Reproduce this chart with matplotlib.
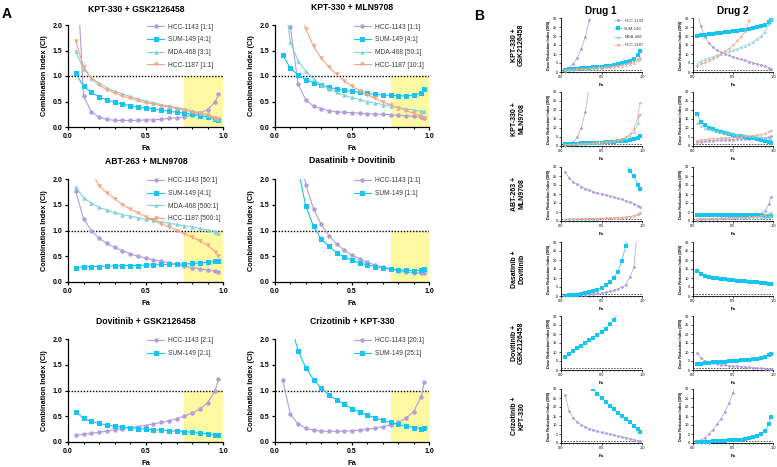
import numpy as np
import matplotlib
matplotlib.use("Agg")
import matplotlib.pyplot as plt
from matplotlib.ticker import MultipleLocator

plt.rcParams['font.family'] = ['Liberation Sans', 'DejaVu Sans']

# fraction affected, shared by every curve
fa = [0.05, 0.10, 0.15, 0.20, 0.25, 0.30, 0.35, 0.40, 0.45, 0.50,
      0.55, 0.60, 0.65, 0.70, 0.75, 0.80, 0.85, 0.90, 0.95, 0.97]

# ---------------- Panel A : combination index ----------------
ci_titles = ['KPT-330 + GSK2126458', 'KPT-330 + MLN9708', 'ABT-263 + MLN9708',
             'Dasatinib + Dovitinib', 'Dovitinib + GSK2126458', 'Crizotinib + KPT-330']

# KPT-330 + GSK2126458
ci1_hcc1143 = [3.5, 0.61, 0.30, 0.19, 0.15, 0.13, 0.13, 0.13, 0.13, 0.14,
               0.14, 0.15, 0.17, 0.18, 0.20, 0.23, 0.27, 0.34, 0.49, 0.64]
ci1_sum149 = [1.05, 0.80, 0.68, 0.59, 0.53, 0.49, 0.45, 0.42, 0.39, 0.37,
              0.35, 0.33, 0.31, 0.29, 0.27, 0.25, 0.22, 0.20, 0.16, 0.13]
ci1_mda468 = [1.49, 1.14, 0.97, 0.86, 0.77, 0.70, 0.65, 0.60, 0.55, 0.51,
              0.48, 0.44, 0.41, 0.38, 0.35, 0.32, 0.28, 0.24, 0.18, 0.15]
ci1_hcc1187 = [1.68, 1.18, 0.95, 0.82, 0.73, 0.67, 0.61, 0.56, 0.52, 0.48,
               0.45, 0.42, 0.39, 0.36, 0.33, 0.30, 0.27, 0.23, 0.18, 0.15]
ci1_labels = ['HCC-1143 [1:1]', 'SUM-149 [4:1]', 'MDA-468 [3:1]', 'HCC-1187 [1:1]']

# KPT-330 + MLN9708
ci2_hcc1143 = [3.5, 1.96, 0.84, 0.53, 0.41, 0.36, 0.32, 0.30, 0.29, 0.28,
               0.27, 0.26, 0.25, 0.25, 0.24, 0.23, 0.22, 0.21, 0.19, 0.18]
ci2_sum149 = [1.41, 1.15, 1.02, 0.93, 0.87, 0.82, 0.78, 0.74, 0.72, 0.70,
              0.68, 0.66, 0.64, 0.63, 0.62, 0.61, 0.61, 0.62, 0.67, 0.74]
ci2_mda468 = [2.8, 1.66, 1.30, 1.09, 0.94, 0.83, 0.75, 0.68, 0.62, 0.58,
              0.54, 0.50, 0.47, 0.44, 0.41, 0.38, 0.36, 0.33, 0.31, 0.31]
ci2_hcc1187 = [4.5, 3.2, 2.4, 1.93, 1.58, 1.35, 1.17, 1.03, 0.90, 0.80,
               0.71, 0.63, 0.56, 0.49, 0.43, 0.38, 0.32, 0.27, 0.21, 0.18]
ci2_labels = ['HCC-1143 [1:1]', 'SUM-149 [4:1]', 'MDA-468 [50:1]', 'HCC-1187 [10:1]']

# ABT-263 + MLN9708
ci3_hcc1143 = [1.76, 1.23, 1.00, 0.85, 0.75, 0.67, 0.61, 0.55, 0.50, 0.47,
               0.43, 0.40, 0.37, 0.34, 0.31, 0.28, 0.26, 0.23, 0.21, 0.19]
ci3_sum149 = [0.28, 0.29, 0.30, 0.30, 0.31, 0.31, 0.32, 0.32, 0.32, 0.33,
              0.33, 0.34, 0.34, 0.35, 0.35, 0.36, 0.37, 0.38, 0.40, 0.41]
ci3_mda468 = [1.84, 1.64, 1.53, 1.45, 1.40, 1.35, 1.31, 1.28, 1.25, 1.22,
              1.20, 1.17, 1.14, 1.12, 1.09, 1.07, 1.04, 1.01, 0.98, 0.96]
ci3_hcc1187 = [3.0, 2.4, 2.15, 1.87, 1.73, 1.62, 1.50, 1.42, 1.34, 1.27,
               1.20, 1.13, 1.07, 1.00, 0.94, 0.87, 0.80, 0.71, 0.59, 0.51]
ci3_labels = ['HCC-1143 [50:1]', 'SUM-149 [4:1]', 'MDA-468 [500:1]', 'HCC-1187 [500:1]']

# Dasatinib + Dovitinib
ci4_hcc1143 = [5.0, 3.6, 2.6, 1.89, 1.42, 1.12, 0.90, 0.74, 0.62, 0.52,
               0.45, 0.38, 0.33, 0.29, 0.25, 0.22, 0.20, 0.18, 0.17, 0.18]
ci4_sum149 = [4.5, 3.1, 2.2, 1.47, 1.08, 0.84, 0.69, 0.57, 0.49, 0.42,
              0.37, 0.33, 0.30, 0.27, 0.25, 0.24, 0.23, 0.22, 0.23, 0.26]
ci4_labels = ['HCC-1143 [1:1]', 'SUM-149 [1:1]']

# Dovitinib + GSK2126458
ci5_hcc1143 = [0.13, 0.15, 0.17, 0.19, 0.21, 0.24, 0.26, 0.28, 0.30, 0.32,
               0.35, 0.38, 0.41, 0.45, 0.50, 0.56, 0.64, 0.76, 1.00, 1.22]
ci5_sum149 = [0.59, 0.46, 0.40, 0.36, 0.33, 0.31, 0.29, 0.28, 0.26, 0.25,
              0.24, 0.23, 0.22, 0.21, 0.20, 0.19, 0.17, 0.16, 0.14, 0.13]
ci5_labels = ['HCC-1143 [2:1]', 'SUM-149 [2:1]']

# Crizotinib + KPT-330
ci6_hcc1143 = [1.20, 0.54, 0.35, 0.27, 0.23, 0.21, 0.21, 0.21, 0.21, 0.22,
               0.23, 0.25, 0.27, 0.30, 0.33, 0.38, 0.46, 0.59, 0.88, 1.17]
ci6_sum149 = [3.2, 2.3, 1.77, 1.44, 1.21, 1.05, 0.92, 0.82, 0.73, 0.65,
              0.58, 0.52, 0.47, 0.42, 0.38, 0.34, 0.31, 0.28, 0.26, 0.27]
ci6_labels = ['HCC-1143 [20:1]', 'SUM-149 [25:1]']

# ---------------- Panel B : dose reduction index ----------------
row_labels = ['KPT-330 +\nGSK2126458', 'KPT-330 +\nMLN9708', 'ABT-263 +\nMLN9708',
              'Dasatinib +\nDovitinib', 'Dovitinib +\nGSK2126458', 'Crizotinib +\nKPT-330']
nan = np.nan

# KPT-330 + GSK2126458
dri1a_hcc1143 = [0.6, 2.5, 4.5, 8.0, 12.8, 19.6, 29.0, 42, nan, nan,
                 nan, nan, nan, nan, nan, nan, nan, nan, nan, nan]
dri1a_sum149 = [1.2, 1.4, 1.6, 1.8, 2.0, 2.2, 2.4, 2.6, 2.8, 3.0,
                3.3, 3.6, 3.9, 4.3, 4.8, 5.4, 6.2, 7.3, 9.5, 11.5]
dri1a_mda468 = [1.0, 1.2, 1.3, 1.5, 1.6, 1.8, 1.9, 2.1, 2.2, 2.4,
                2.6, 2.8, 3.0, 3.3, 3.6, 4.0, 4.5, 5.2, 6.5, 7.5]
dri1a_hcc1187 = [0.9, 1.1, 1.2, 1.4, 1.5, 1.7, 1.8, 2.0, 2.2, 2.4,
                 2.6, 2.8, 3.1, 3.4, 3.8, 4.2, 4.8, 5.6, 7.0, 8.0]
dri1b_hcc1143 = [33.5, 25.3, 19.5, 16.0, 13.8, 12.2, 11.0, 10.0, 9.2, 8.4,
                 7.7, 7.0, 6.4, 5.8, 5.2, 4.6, 4.0, 3.3, 2.4, 1.8]
dri1b_sum149 = [20.2, 20.5, 20.8, 21.0, 21.3, 21.5, 21.8, 22.0, 22.3, 22.6,
                22.9, 23.2, 23.5, 23.9, 24.3, 24.8, 25.4, 26.2, 27.8, 29.0]
dri1b_mda468 = [4.5, 6.0, 7.0, 7.8, 8.6, 9.3, 10.0, 10.7, 11.4, 12.1,
                12.9, 13.7, 14.6, 15.6, 16.8, 18.2, 20.0, 22.5, 26.5, 29.5]
dri1b_hcc1187 = [3.0, 4.2, 5.2, 6.3, 7.4, 8.6, 9.9, 11.4, 13.0, 14.8,
                 17.0, 19.5, 22.5, 28.5, 36, nan, nan, nan, nan, nan]

# KPT-330 + MLN9708
dri2a_hcc1143 = [0.3, 0.9, 2.2, 4.8, 10.0, 19.0, 33, nan, nan, nan,
                 nan, nan, nan, nan, nan, nan, nan, nan, nan, nan]
dri2a_sum149 = [1.0, 1.1, 1.2, 1.3, 1.4, 1.5, 1.6, 1.7, 1.8, 1.9,
                2.0, 2.1, 2.3, 2.5, 2.7, 3.0, 3.3, 3.8, 4.7, 5.5]
dri2a_mda468 = [0.8, 0.9, 1.0, 1.1, 1.2, 1.3, 1.4, 1.6, 1.7, 1.9,
                2.1, 2.4, 2.7, 3.1, 3.6, 4.4, 5.6, 7.8, 12.5, 17.5]
dri2a_hcc1187 = [0.6, 0.7, 0.8, 0.9, 1.0, 1.1, 1.3, 1.4, 1.6, 1.8,
                 2.0, 2.3, 2.7, 3.2, 3.9, 4.9, 6.5, 9.5, 16.0, 24.0]
dri2b_hcc1143 = [2.2, 2.4, 2.6, 2.8, 3.0, 3.1, 3.3, 3.4, 3.5, 3.6,
                 3.8, 3.9, 4.0, 4.1, 4.2, 4.4, 4.5, 4.7, 5.0, 5.3]
dri2b_sum149 = [17.8, 13.5, 11.5, 10.2, 9.3, 8.5, 7.9, 7.3, 6.8, 6.3,
                5.8, 5.4, 5.0, 4.6, 4.2, 3.7, 3.3, 2.8, 2.1, 1.6]
dri2b_mda468 = [13.0, 11.3, 10.2, 9.4, 8.8, 8.2, 7.7, 7.3, 7.0, 6.7,
                6.4, 6.1, 5.9, 5.6, 5.4, 5.1, 4.9, 4.6, 4.2, 3.9]
dri2b_hcc1187 = [3.0, 3.3, 3.5, 3.7, 3.9, 4.1, 4.2, 4.4, 4.5, 4.7,
                 4.8, 5.0, 5.2, 5.4, 5.6, 5.9, 6.3, 6.8, 7.8, 8.6]

# ABT-263 + MLN9708
dri3a_hcc1143 = [27.5, 24.0, 21.8, 20.3, 19.0, 18.0, 17.1, 16.3, 15.6, 15.0,
                 14.4, 13.8, 13.2, 12.6, 12.0, 11.3, 10.6, 9.7, 8.5, 7.8]
dri3a_sum149 = [nan, nan, nan, nan, nan, nan, nan, nan, nan, nan,
                nan, nan, nan, nan, 36, 31.5, 27.6, 24.8, 20.2, 17.7]
dri3a_mda468 = [0.9, 1.0, 1.0, 1.1, 1.1, 1.2, 1.2, 1.3, 1.3, 1.4,
                1.5, 1.6, 1.7, 1.8, 2.0, 2.2, 2.5, 3.0, 3.8, 4.5]
dri3a_hcc1187 = [0.8, 0.9, 0.9, 1.0, 1.0, 1.1, 1.1, 1.2, 1.3, 1.3,
                 1.4, 1.5, 1.6, 1.8, 1.9, 2.1, 2.4, 2.8, 3.5, 4.2]
dri3b_hcc1143 = [0.8, 0.9, 1.0, 1.1, 1.2, 1.3, 1.4, 1.5, 1.6, 1.7,
                 1.8, 2.0, 2.2, 2.5, 2.8, 3.3, 4.1, 5.5, 9.5, 13.5]
dri3b_sum149 = [3.6, 3.5, 3.5, 3.4, 3.4, 3.4, 3.3, 3.3, 3.3, 3.3,
                3.2, 3.2, 3.2, 3.2, 3.1, 3.1, 3.1, 3.0, 3.0, 2.9]
dri3b_mda468 = [1.3, 1.3, 1.4, 1.4, 1.4, 1.5, 1.5, 1.5, 1.6, 1.6,
                1.6, 1.7, 1.7, 1.8, 1.8, 1.9, 2.0, 2.2, 2.5, 2.8]
dri3b_hcc1187 = [0.8, 0.9, 1.0, 1.0, 1.1, 1.2, 1.2, 1.3, 1.4, 1.5,
                 1.6, 1.7, 1.8, 2.0, 2.2, 2.4, 2.7, 3.1, 3.8, 4.3]

# Dasatinib + Dovitinib
dri4a_hcc1143 = [0.1, 0.2, 0.3, 0.4, 0.55, 0.7, 0.9, 1.1, 1.4, 1.7,
                 2.1, 2.6, 3.2, 4.0, 5.0, 6.3, 10.5, 16.0, 40, nan]
dri4a_sum149 = [0.2, 0.35, 0.55, 0.8, 1.1, 1.5, 2.0, 2.7, 3.5, 4.6,
                5.9, 7.6, 10.0, 13.6, 19.3, 28.0, 42, nan, nan, nan]
dri4b_sum149 = [13.8, 12.0, 11.0, 10.5, 10.1, 9.8, 9.5, 9.2, 9.0, 8.8,
                8.6, 8.4, 8.2, 8.0, 7.8, 7.6, 7.4, 7.1, 6.7, 6.4]

# Dovitinib + GSK2126458
dri5a_sum149 = [7.0, 8.8, 10.5, 12.0, 13.5, 15.0, 16.5, 18.0, 19.5, 21.2,
                23.0, 25.3, 27.8, 31.0, nan, nan, nan, nan, nan, nan]
dri5b_hcc1143 = [9.5, 6.5, 5.0, 4.2, 3.7, 3.3, 3.0, 2.7, 2.5, 2.3,
                 2.1, 1.9, 1.7, 1.5, 1.3, 1.1, 0.9, 0.7, 0.4, 0.3]
dri5b_sum149 = [3.1, 3.5, 3.8, 4.0, 4.2, 4.3, 4.5, 4.6, 4.8, 5.0,
                5.1, 5.3, 5.5, 5.7, 6.0, 6.3, 6.7, 7.2, 8.2, 9.0]

# Crizotinib + KPT-330
dri6a_hcc1143 = [26.5, 18.0, 14.0, 11.8, 10.2, 9.0, 8.0, 7.2, 6.5, 5.9,
                 5.3, 4.8, 4.3, 3.8, 3.4, 2.9, 2.4, 1.9, 1.3, 1.0]
dri6a_sum149 = [nan, nan, nan, nan, nan, nan, nan, 29.8, 27.3, 25.0,
                22.8, 20.8, 18.8, 16.9, 15.0, 13.2, 11.4, 9.6, 7.6, 6.0]
dri6b_hcc1143 = [0.3, 1.5, 3.0, 5.0, 7.5, 10.3, 13.5, 17.5, 22.0, 28.0,
                 36, nan, nan, nan, nan, nan, nan, nan, nan, nan]
dri6b_sum149 = [0.5, 0.6, 0.7, 0.8, 0.9, 1.0, 1.1, 1.2, 1.4, 1.5,
                1.7, 1.9, 2.2, 2.6, 3.1, 3.9, 5.0, 6.8, 10.5, 14.5]

# marker / colour per cell line
style = {
    'HCC-1143': ('o', '#B29CDB'),
    'SUM-149': ('s', '#16C4F3'),
    'MDA-468': ('^', '#80D3D5'),
    'HCC-1187': ('v', '#F8A484'),
}
cells = ['HCC-1143', 'SUM-149', 'MDA-468', 'HCC-1187']

W, H = 777, 467
fig = plt.figure(figsize=(W / 100, H / 100), dpi=100)


def px_axes(x0, y0, x1, y1):
    return fig.add_axes([x0 / W, 1 - y1 / H, (x1 - x0) / W, (y1 - y0) / H])


def prism_axes(ax, lw):
    for s in ['top', 'right']:
        ax.spines[s].set_visible(False)
    for s in ['left', 'bottom']:
        ax.spines[s].set_linewidth(lw)


# ---------- Panel A ----------
a_cols = [(68, 223), (275, 429)]
a_rows = [(25, 127), (179, 282), (339, 442)]
ci_sets = [
    ([ci1_hcc1143, ci1_sum149, ci1_mda468, ci1_hcc1187], ci1_labels),
    ([ci2_hcc1143, ci2_sum149, ci2_mda468, ci2_hcc1187], ci2_labels),
    ([ci3_hcc1143, ci3_sum149, ci3_mda468, ci3_hcc1187], ci3_labels),
    ([ci4_hcc1143, ci4_sum149], ci4_labels),
    ([ci5_hcc1143, ci5_sum149], ci5_labels),
    ([ci6_hcc1143, ci6_sum149], ci6_labels),
]
title_pos = [(136, 9), (352, 8), (146, 162), (352, 161), (146, 322), (352, 322)]

for i, (series, labels) in enumerate(ci_sets):
    r, c = divmod(i, 2)
    ax = px_axes(a_cols[c][0], a_rows[r][0], a_cols[c][1], a_rows[r][1])
    ax.axhspan(0, 1.0, xmin=0.75, xmax=1.0, color='#FFF8A2', zorder=0, lw=0)
    ax.axhline(1.0, color='black', ls=(0, (1, 1.2)), lw=1.0, zorder=1)
    for vals, lab in zip(series, labels):
        mk, col = style[lab.split(' ')[0]]
        ms = 3.6 if mk == 's' else 3.2
        ax.plot(fa, vals, marker=mk, color=col, ms=ms, lw=0.8, mew=0,
                label=lab, zorder=3)
    ax.set_xlim(0, 1.0)
    ax.set_ylim(0, 2.0)
    ax.xaxis.set_major_locator(MultipleLocator(0.5))
    ax.xaxis.set_minor_locator(MultipleLocator(0.1))
    ax.yaxis.set_major_locator(MultipleLocator(0.5))
    ax.xaxis.set_major_formatter(matplotlib.ticker.FormatStrFormatter('%.1f'))
    ax.yaxis.set_major_formatter(matplotlib.ticker.FormatStrFormatter('%.1f'))
    prism_axes(ax, 0.9)
    ax.tick_params(which='major', length=2.5, width=0.9, labelsize=5, pad=1.5)
    ax.tick_params(which='minor', length=1.6, width=0.8)
    for t in ax.get_xticklabels() + ax.get_yticklabels():
        t.set_fontweight('bold')
    ax.set_xlabel('Fa', fontsize=5.5, fontweight='bold', labelpad=4)
    ax.set_ylabel('Combination Index (CI)', fontsize=5.3, fontweight='bold', labelpad=3)
    leg = ax.legend(loc='upper left', bbox_to_anchor=(0.48, 1.06), frameon=False,
                    fontsize=4.8, handlelength=2.6, labelspacing=0.85,
                    handletextpad=0.6, borderpad=0.2)
    for t in leg.get_texts():
        t.set_color('#3a3a3a')
    tx, ty = title_pos[i]
    fig.text(tx / W, 1 - ty / H, ci_titles[i], fontsize=6.2, fontweight='bold',
             ha='center', va='center')

# ---------- Panel B ----------
b_cols = [(561, 642), (693, 773)]
b_rows = [(18, 72), (92, 146), (167, 221), (242, 296), (316, 370), (389, 443)]
dri_sets = [
    ([('HCC-1143', dri1a_hcc1143), ('SUM-149', dri1a_sum149), ('MDA-468', dri1a_mda468), ('HCC-1187', dri1a_hcc1187)],
     [('HCC-1143', dri1b_hcc1143), ('SUM-149', dri1b_sum149), ('MDA-468', dri1b_mda468), ('HCC-1187', dri1b_hcc1187)]),
    ([('HCC-1143', dri2a_hcc1143), ('SUM-149', dri2a_sum149), ('MDA-468', dri2a_mda468), ('HCC-1187', dri2a_hcc1187)],
     [('HCC-1143', dri2b_hcc1143), ('SUM-149', dri2b_sum149), ('MDA-468', dri2b_mda468), ('HCC-1187', dri2b_hcc1187)]),
    ([('HCC-1143', dri3a_hcc1143), ('SUM-149', dri3a_sum149), ('MDA-468', dri3a_mda468), ('HCC-1187', dri3a_hcc1187)],
     [('HCC-1143', dri3b_hcc1143), ('SUM-149', dri3b_sum149), ('MDA-468', dri3b_mda468), ('HCC-1187', dri3b_hcc1187)]),
    ([('HCC-1143', dri4a_hcc1143), ('SUM-149', dri4a_sum149)],
     [('SUM-149', dri4b_sum149)]),
    ([('SUM-149', dri5a_sum149)],
     [('HCC-1143', dri5b_hcc1143), ('SUM-149', dri5b_sum149)]),
    ([('HCC-1143', dri6a_hcc1143), ('SUM-149', dri6a_sum149)],
     [('HCC-1143', dri6b_hcc1143), ('SUM-149', dri6b_sum149)]),
]

for r, pair in enumerate(dri_sets):
    for c, series in enumerate(pair):
        ax = px_axes(b_cols[c][0], b_rows[r][0], b_cols[c][1], b_rows[r][1])
        ax.axhline(1.0, color='#444444', ls=(0, (2, 1.5)), lw=0.6, zorder=1)
        for cell, vals in series:
            mk, col = style[cell]
            ms = 2.4 if mk == 's' else 2.0
            ax.plot(fa, vals, marker=mk, color=col, ms=ms, lw=0.5, mew=0,
                    label=cell, zorder=3)
        ax.set_xlim(0, 1.0)
        ax.set_ylim(0, 30)
        ax.xaxis.set_major_locator(MultipleLocator(0.5))
        ax.xaxis.set_minor_locator(MultipleLocator(0.05))
        ax.yaxis.set_major_locator(MultipleLocator(5))
        ax.xaxis.set_major_formatter(matplotlib.ticker.FormatStrFormatter('%.1f'))
        prism_axes(ax, 0.6)
        ax.tick_params(which='major', length=1.5, width=0.5, labelsize=2.8, pad=1)
        ax.tick_params(which='minor', length=1.0, width=0.4)
        ax.set_xlabel('Fa', fontsize=3.2, fontweight='bold', labelpad=2.5)
        ax.set_ylabel('Dose Reduction Index (DRI)', fontsize=2.7, fontweight='bold', labelpad=1.5)
        if r == 0 and c == 0:
            handles, labs = [], []
            for cell in cells:
                mk, col = style[cell]
                h, = ax.plot([], [], marker=mk, color=col, ms=2.2, lw=0.5, mew=0)
                handles.append(h)
                labs.append(cell)
            leg = ax.legend(handles, labs, loc='upper left', bbox_to_anchor=(0.62, 1.04),
                            frameon=False, fontsize=3.0, handlelength=1.8,
                            labelspacing=1.0, handletextpad=0.6, borderpad=0.2)
            for t in leg.get_texts():
                t.set_color('#3a3a3a')
    yc = (b_rows[r][0] + b_rows[r][1]) / 2
    fig.text(518 / W, 1 - yc / H, row_labels[r], fontsize=5.0, fontweight='bold',
             rotation=90, ha='center', va='center', linespacing=1.0)

fig.text(601 / W, 1 - 11 / H, 'Drug 1', fontsize=7.2, fontweight='bold', ha='center', va='center')
fig.text(733 / W, 1 - 11 / H, 'Drug 2', fontsize=7.2, fontweight='bold', ha='center', va='center')

fig.text(7 / W, 1 - 14 / H, 'A', fontsize=10, fontweight='bold', ha='center', va='center')
fig.text(479 / W, 1 - 16 / H, 'B', fontsize=10, fontweight='bold', ha='center', va='center')

fig.savefig('out.png', dpi=100)
